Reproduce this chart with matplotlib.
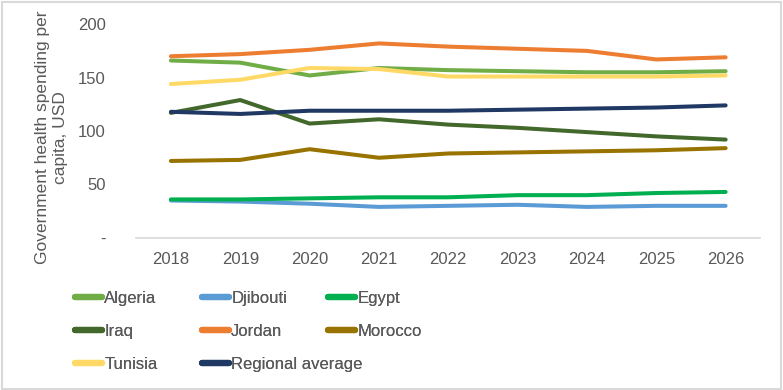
import matplotlib
matplotlib.use("Agg")
import matplotlib.pyplot as plt
from matplotlib.lines import Line2D
from matplotlib.patches import Rectangle

# === DATA ===
years = ['2018', '2019', '2020', '2021', '2022', '2023', '2024', '2025', '2026']
algeria = [166, 164, 152, 159, 157, 156, 155, 155, 156]
djibouti = [35, 34, 32, 29, 30, 31, 29, 30, 30]
egypt = [36, 36, 37, 38, 38, 40, 40, 42, 43]
iraq = [117, 129, 107, 111, 106, 103, 99, 95, 92]
jordan = [170, 172, 176, 182, 179, 177, 175, 167, 169]
morocco = [72, 73, 83, 75, 79, 80, 81, 82, 84]
tunisia = [144, 148, 159, 158, 151, 151, 151, 151, 152]
regional = [118, 116, 119, 119, 119, 120, 121, 122, 124]

series = [
    ('Algeria', algeria, '#70AD47'),
    ('Djibouti', djibouti, '#5B9BD5'),
    ('Egypt', egypt, '#00B050'),
    ('Iraq', iraq, '#43682B'),
    ('Jordan', jordan, '#ED7D31'),
    ('Morocco', morocco, '#997300'),
    ('Tunisia', tunisia, '#FFD966'),
    ('Regional average', regional, '#203864'),
]

yticks = [0, 50, 100, 150, 200]
ytick_labels = ['-', '50', '100', '150', '200']

# === PLOT ===
plt.rcParams['font.family'] = ['Liberation Sans', 'DejaVu Sans']
TXT = '#595959'

fig = plt.figure(figsize=(7.83, 3.9), dpi=100)
ax = fig.add_axes([0.174, 0.390, 0.797, 0.548])

x = range(len(years))
handles = {}
for name, vals, col in series:
    ln, = ax.plot(x, vals, color=col, lw=2.9, solid_capstyle='round',
                  solid_joinstyle='round')
    handles[name] = ln

ax.set_xlim(-0.5, len(years) - 0.5)
ax.set_ylim(0, 200)
ax.set_xticks(list(x))
ax.set_xticklabels(years)
ax.set_yticks(yticks)
ax.set_yticklabels(ytick_labels)
ax.tick_params(length=0, labelsize=12, colors=TXT)
ax.tick_params(axis='x', pad=10)
ax.tick_params(axis='y', pad=22)
for s in ['top', 'right', 'left']:
    ax.spines[s].set_visible(False)
ax.spines['bottom'].set_color('#D9D9D9')
ax.spines['bottom'].set_linewidth(1.2)

fig.text(0.066, 0.648, 'Government health spending per\ncapita, USD',
         rotation=90, ha='center', va='center', fontsize=12.5, color=TXT,
         linespacing=1.3)

# legend laid out in three fixed-width columns like Excel
columns = [
    (['Algeria', 'Iraq', 'Tunisia'], 0.096),
    (['Djibouti', 'Jordan', 'Regional average'], 0.258),
    (['Egypt', 'Morocco'], 0.419),
]
for names, xpos in columns:
    hs = [Line2D([], [], color=handles[n].get_color(), lw=4.5,
                 solid_capstyle='round') for n in names]
    leg = fig.legend(hs, names, loc='upper left', bbox_to_anchor=(xpos, 0.255),
                     frameon=False, fontsize=12, handlelength=1.6,
                     handletextpad=0.15, labelspacing=1.1, borderpad=0,
                     borderaxespad=0)
    for t in leg.get_texts():
        t.set_color(TXT)
    fig.add_artist(leg)

fig.add_artist(Rectangle((0.002, 0.003), 0.995, 0.993, transform=fig.transFigure,
                         fill=False, edgecolor='#D9D9D9', lw=1.5))

fig.savefig('out.png', dpi=100)
